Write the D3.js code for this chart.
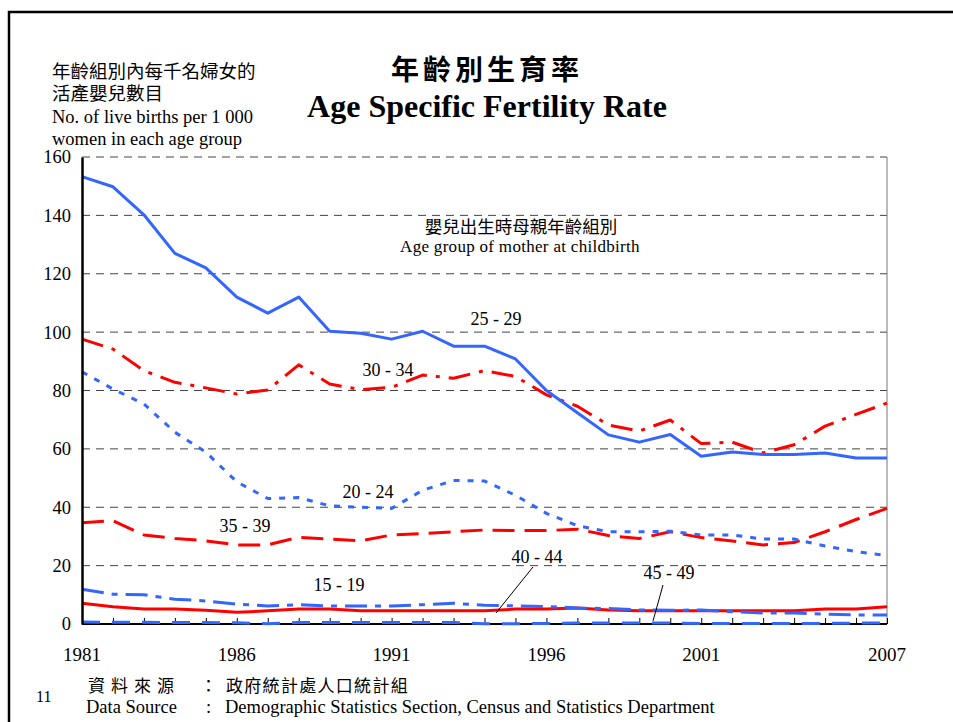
<!DOCTYPE html>
<meta charset="utf-8">
<script src="https://d3js.org/d3.v7.min.js"></script>
<style>
  body { margin: 0; background: #fff; }
  svg text { font-family: "Liberation Serif", "Times New Roman", "Noto Sans CJK TC", serif; fill: #000; }
  svg text.cjk { font-family: "Noto Sans CJK TC", sans-serif; }
</style>
<div id="chart"></div>
<script>

// years along the x axis
var years = d3.range(1981, 2008);
var tickYears = [1981, 1986, 1991, 1996, 2001, 2007];
var yTicks = [0, 20, 40, 60, 80, 100, 120, 140, 160];

// births per 1 000 women, by age group of mother
var age15_19 = [11.9, 10.2, 10.0, 8.5, 7.9, 6.8, 6.2, 6.6, 6.2, 6.2, 6.2, 6.6, 7.1, 6.4, 6.2, 6.0, 5.5, 5.3, 4.8, 4.7, 4.8, 4.2, 3.8, 3.8, 3.4, 3.1, 3.1];
var age20_24 = [86.4, 80.5, 75.4, 65.7, 58.9, 48.7, 43.0, 43.3, 40.5, 40.0, 39.6, 45.8, 49.2, 49.0, 44.1, 37.9, 33.7, 31.6, 31.6, 31.8, 30.5, 30.5, 29.1, 29.1, 26.7, 24.8, 23.4];
var age25_29 = [153.3, 149.8, 140.2, 127.0, 122.0, 112.0, 106.5, 112.0, 100.3, 99.6, 97.6, 100.3, 95.2, 95.2, 90.8, 80.0, 72.4, 64.8, 62.3, 64.9, 57.5, 58.9, 58.1, 58.1, 58.6, 56.9, 56.9];
var age30_34 = [97.6, 94.2, 86.8, 82.8, 80.9, 78.8, 80.2, 88.8, 82.2, 80.3, 81.1, 85.3, 84.2, 86.8, 84.8, 78.5, 74.6, 68.2, 66.1, 69.9, 61.8, 62.3, 58.6, 61.4, 67.8, 71.8, 75.7];
var age35_39 = [34.7, 35.4, 30.5, 29.3, 28.5, 27.1, 27.1, 29.7, 29.1, 28.5, 30.5, 31.0, 31.6, 32.2, 32.0, 32.0, 32.5, 30.3, 29.3, 31.6, 29.6, 28.4, 27.1, 27.9, 31.6, 35.8, 39.6];
var age40_44 = [7.1, 5.9, 5.1, 5.1, 4.7, 4.0, 4.5, 5.1, 5.1, 4.5, 4.5, 4.5, 4.5, 4.5, 5.1, 5.1, 5.5, 4.8, 4.5, 4.5, 4.5, 4.5, 4.5, 4.5, 5.1, 5.1, 5.9];
var age45_49 = [0.7, 0.6, 0.6, 0.5, 0.5, 0.4, 0.1, 0.5, 0.5, 0.5, 0.5, 0.5, 0.5, 0.1, 0.1, 0.2, 0.3, 0.3, 0.3, 0.3, 0.2, 0.2, 0.2, 0.2, 0.2, 0.3, 0.4];

var blue = "#3366ff", red = "#ff0000";

// drawing order: back to front
var series = [
  { name: "45 - 49", values: age45_49, color: blue, dash: "18,12" },
  { name: "40 - 44", values: age40_44, color: red,  dash: null },
  { name: "15 - 19", values: age15_19, color: blue, dash: "22,8,6,8" },
  { name: "35 - 39", values: age35_39, color: red,  dash: "22,10" },
  { name: "20 - 24", values: age20_24, color: blue, dash: "6,8" },
  { name: "30 - 34", values: age30_34, color: red,  dash: "22,9,4,9" },
  { name: "25 - 29", values: age25_29, color: blue, dash: null }
];

var W = 953, H = 722;
var svg = d3.select("#chart").append("svg")
    .attr("width", W)
    .attr("height", H);

// outer frame (runs off the page on right and bottom)
svg.append("rect")
    .attr("x", 9).attr("y", 12)
    .attr("width", 1000).attr("height", 800)
    .attr("fill", "none")
    .attr("stroke", "#000")
    .attr("stroke-width", 2.5);

var x = d3.scaleLinear().domain([1981, 2007]).range([82, 887]);
var y = d3.scaleLinear().domain([0, 160]).range([624, 157]);

// gridlines
svg.append("g")
  .selectAll("line")
  .data(yTicks.filter(function(d) { return d > 0; }))
  .enter().append("line")
    .attr("x1", x(1981)).attr("x2", x(2007))
    .attr("y1", function(d) { return y(d); })
    .attr("y2", function(d) { return y(d); })
    .attr("stroke", "#444")
    .attr("stroke-width", 1)
    .attr("stroke-dasharray", "8,6");

// right border of plot
svg.append("line")
    .attr("x1", x(2007)).attr("x2", x(2007))
    .attr("y1", y(160)).attr("y2", y(0))
    .attr("stroke", "#777").attr("stroke-width", 1);

// X axis: a tick every year, labels on a few (drawn under the lines)
var xAxis = d3.axisTop(x)
    .tickValues(years)
    .tickSize(6)
    .tickFormat("");
var gx = svg.append("g")
    .attr("transform", "translate(0," + y(0) + ")")
    .call(xAxis);
gx.select(".domain").attr("stroke", "#000").attr("stroke-width", 2).attr("d", "M" + x(1981) + ",0H" + x(2007));
gx.selectAll(".tick line").attr("stroke", "#000");

svg.append("g")
  .selectAll("text")
  .data(tickYears)
  .enter().append("text")
    .attr("x", function(d) { return x(d); })
    .attr("y", 661)
    .attr("text-anchor", "middle")
    .style("font-size", "19px")
    .text(function(d) { return d; });

// lines
var line = d3.line()
    .x(function(d, i) { return x(years[i]); })
    .y(function(d) { return y(d); });

svg.append("g")
  .selectAll("path")
  .data(series)
  .enter().append("path")
    .attr("fill", "none")
    .attr("stroke", function(d) { return d.color; })
    .attr("stroke-width", 3)
    .attr("stroke-linejoin", "round")
    .attr("stroke-dasharray", function(d) { return d.dash; })
    .attr("d", function(d) { return line(d.values); });

// Y axis
var gy = svg.append("g")
    .attr("transform", "translate(" + x(1981) + ",0)")
    .call(d3.axisLeft(y).tickValues(yTicks).tickSize(0).tickPadding(11));
gy.select(".domain").attr("stroke", "#000").attr("stroke-width", 2.5);
gy.selectAll("text")
    .style("font-size", "18.5px")
    .attr("fill", "#000");

// title
svg.append("text").attr("class", "cjk")
    .attr("x", 487).attr("y", 80)
    .attr("text-anchor", "middle")
    .style("font-size", "28px").style("font-weight", "bold")
    .style("letter-spacing", "4px")
    .text("年齡別生育率");
svg.append("text")
    .attr("x", 487).attr("y", 117)
    .attr("text-anchor", "middle")
    .style("font-size", "32px").style("font-weight", "bold")
    .text("Age Specific Fertility Rate");

// y axis caption (CJK glyphs fall back from the serif face)
var yCap = [
  { t: "年齡組別內每千名婦女的", y: 78 },
  { t: "活產嬰兒數目", y: 100 },
  { t: "No. of live births per 1 000", y: 123 },
  { t: "women in each age group", y: 145 }
];
svg.append("g").selectAll("text")
  .data(yCap)
  .enter().append("text")
    .attr("x", 52)
    .attr("y", function(d) { return d.y; })
    .style("font-size", "18.5px")
    .text(function(d) { return d.t; });

// legend caption in plot
svg.append("text").attr("class", "cjk")
    .attr("x", 521).attr("y", 233)
    .attr("text-anchor", "middle")
    .style("font-size", "17.5px")
    .text("嬰兒出生時母親年齡組別");
svg.append("text")
    .attr("x", 520).attr("y", 252)
    .attr("text-anchor", "middle")
    .style("font-size", "17px")
    .style("letter-spacing", "0.3px")
    .text("Age group of mother at childbirth");

// series labels
var labels = [
  { t: "25 - 29", x: 496, y: 325 },
  { t: "30 - 34", x: 388, y: 376 },
  { t: "20 - 24", x: 368, y: 498 },
  { t: "35 - 39", x: 245, y: 532 },
  { t: "15 - 19", x: 339, y: 591 },
  { t: "40 - 44", x: 537, y: 563 },
  { t: "45 - 49", x: 669, y: 579 }
];
svg.append("g").selectAll("text")
  .data(labels)
  .enter().append("text")
    .attr("x", function(d) { return d.x; })
    .attr("y", function(d) { return d.y; })
    .attr("text-anchor", "middle")
    .style("font-size", "18px")
    .text(function(d) { return d.t; });

// leader lines
var leaders = [
  { x1: 533, y1: 567, x2: 496, y2: 613 },
  { x1: 663, y1: 585, x2: 653, y2: 621 }
];
svg.append("g").selectAll("line")
  .data(leaders)
  .enter().append("line")
    .attr("x1", function(d) { return d.x1; })
    .attr("y1", function(d) { return d.y1; })
    .attr("x2", function(d) { return d.x2; })
    .attr("y2", function(d) { return d.y2; })
    .attr("stroke", "#000").attr("stroke-width", 1);

// footer
svg.append("text").attr("x", 36).attr("y", 702).style("font-size", "16px").text("11");
var foot = [
  { t: "資料來源", x: 88, y: 692, cjk: true, ls: "6px" },
  { t: "：", x: 200, y: 692, cjk: true, ls: null },
  { t: "政府統計處人口統計組", x: 226, y: 692, cjk: true, ls: "1.3px" },
  { t: "Data Source", x: 86, y: 713, cjk: false, ls: null },
  { t: ":", x: 206, y: 713, cjk: false, ls: null },
  { t: "Demographic Statistics Section, Census and Statistics Department", x: 225, y: 713, cjk: false, ls: null }
];
svg.append("g").selectAll("text")
  .data(foot)
  .enter().append("text")
    .attr("class", function(d) { return d.cjk ? "cjk" : null; })
    .attr("x", function(d) { return d.x; })
    .attr("y", function(d) { return d.y; })
    .style("font-size", function(d) { return d.cjk ? "17px" : "18.5px"; })
    .style("letter-spacing", function(d) { return d.ls; })
    .text(function(d) { return d.t; });

</script>
